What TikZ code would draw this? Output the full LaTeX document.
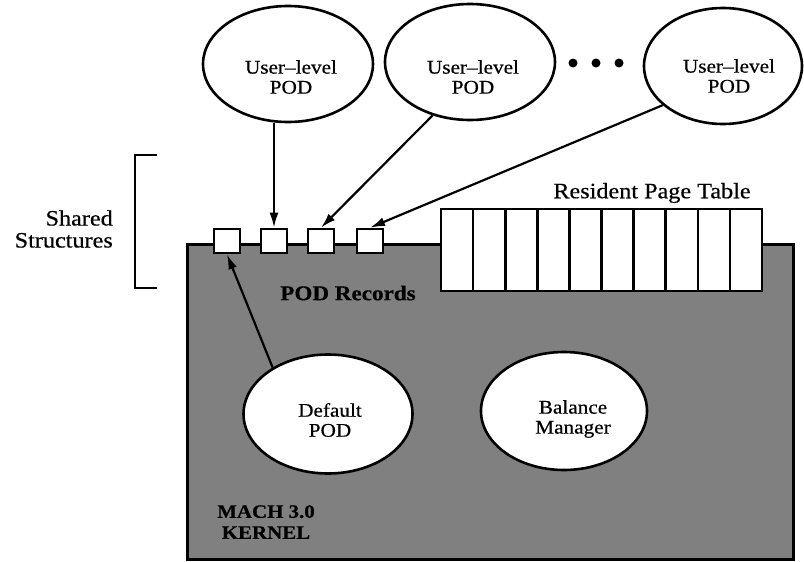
\documentclass[tikz,border=0pt]{standalone}
\usepackage{fontspec}
\setmainfont{Liberation Serif}[FakeStretch=1.1,FakeBold=0.5]
\usetikzlibrary{shapes.geometric,arrows.meta}
\definecolor{kernelgray}{gray}{0.5}

\begin{document}
\begin{tikzpicture}[x=1pt,y=-1pt,
  outline/.style={line width=2.6pt},
  pod/.style={ellipse,draw,outline,fill=white,inner sep=0pt},
  txt/.style={align=center,inner sep=0pt,font=\fontsize{19.3}{20}\selectfont},
  rec/.style={draw,outline,fill=white,minimum width=26pt,minimum height=24pt,inner sep=0pt},
  cell/.style={draw,outline,fill=white,minimum width=32.1pt,minimum height=82pt,inner sep=0pt},
  link/.style={line width=2.2pt,-{Latex[length=15pt,width=9pt]}},
  blob/.style={circle,fill=black,inner sep=0pt,minimum size=9pt}]

\useasboundingbox (0,0) rectangle (804,562);

% kernel area
\node[draw,outline,fill=kernelgray,minimum width=606pt,minimum height=315pt,
      inner sep=0pt,anchor=north west] (kernel) at (186,243) {};

% resident page table
\foreach \i in {1,...,10}
  \node[cell] (c\i) at ({441+32.1*(\i-0.5)},250) {};
\node[txt,font=\fontsize{22}{24}\selectfont] (rptlabel) at (652,193) {Resident Page Table};

% POD records
\node[rec] (r1) at (227,241) {};
\node[rec] (r2) at (274,241) {};
\node[rec] (r3) at (321,241) {};
\node[rec] (r4) at (370,241) {};
\node[txt,font=\fontsize{21}{22}\bfseries\selectfont] (podrec) at (348,293) {POD Records};

% user-level pagers
\node[pod,minimum width=170pt,minimum height=116pt] (u1) at (288,64) {};
\node[pod,minimum width=170pt,minimum height=116pt] (u2) at (470,62) {};
\node[pod,minimum width=158pt,minimum height=116pt] (u3) at (723,66) {};
\node[txt] (u1t) at (291,77) {User–level\\POD};
\node[txt] (u2t) at (473,77) {User–level\\POD};
\node[txt] (u3t) at (729,76) {User–level\\POD};

\node[blob] (d1) at (573,63) {};
\node[blob] (d2) at (596,63) {};
\node[blob] (d3) at (619,63) {};

% in-kernel components
\node[pod,minimum width=169pt,minimum height=119pt] (dp) at (328,414) {};
\node[txt] (dpt) at (330,420) {Default\\POD};
\node[pod,minimum width=166pt,minimum height=118pt] (bm) at (564,411) {};
\node[txt] (bmt) at (573,419) {Balance\\Manager};

\node[txt,font=\fontsize{19}{21}\bfseries\selectfont] (mach) at (266,522) {MACH 3.0\\KERNEL};

% shared structures bracket
\coordinate (bt) at (157,155);
\coordinate (bb) at (157,288);
\draw[line width=2.6pt] (bt) -- ++(-22,0) |- (bb);
\node[txt,font=\fontsize{22}{22}\selectfont,align=right,anchor=east] (shared) at (113,229) {Shared\\Structures};

% connections
\draw[link] (r2.north |- u1.south) -- (r2.north);
\draw[link] (u2.235) -- (r3.north);
\draw[link] (u3.213) -- (r4.north);
\draw[link] (dp.140) -- (r1.south);
\end{tikzpicture}
\end{document}
